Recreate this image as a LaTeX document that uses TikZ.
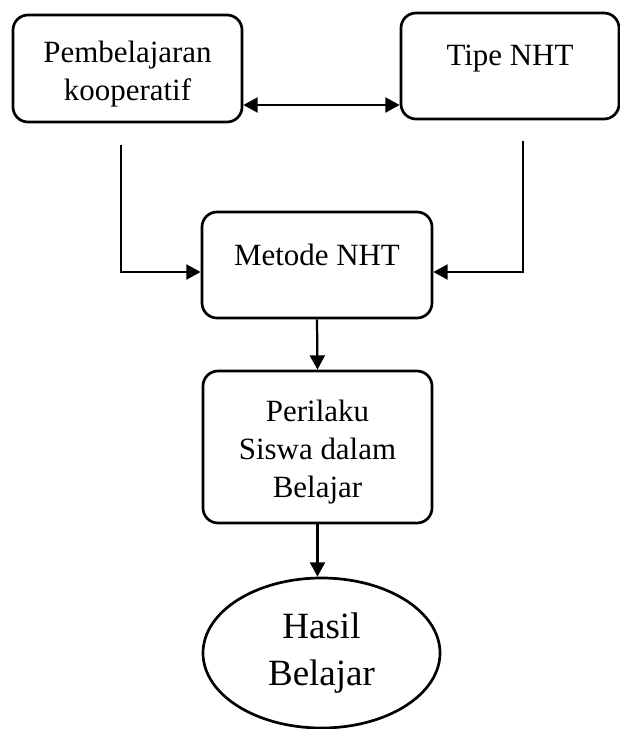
\documentclass[tikz,border=0pt]{standalone}
\usepackage{fontspec}
\setmainfont{Liberation Serif}
\usetikzlibrary{arrows.meta,shapes.geometric}
\begin{document}
\begin{tikzpicture}[x=0.03cm,y=-0.03cm,
  kotak/.style={draw,line width=2.3pt,rounded corners=0.45cm,inner sep=0pt,align=center,
    font=\fontsize{26.4}{32.4}\selectfont},
  link/.style={line width=1.9pt,-{Triangle[length=0.43cm,width=0.45cm]}}]
\useasboundingbox (0,0) rectangle (620,729);
\node[kotak,minimum width=6.87cm,text height=2.55cm,text depth=0.66cm] (koop) at (127.5,68.5) {Pembelajaran\\kooperatif};
\node[kotak,minimum width=6.54cm,text height=1.56cm,text depth=1.62cm] (tipe) at (510,66) {Tipe NHT};
\node[kotak,minimum width=6.9cm,text height=1.59cm,text depth=1.59cm] (metode) at (317,265) {Metode NHT};
\node[kotak,minimum width=6.87cm,text height=3.78cm,text depth=0.78cm] (perilaku) at (317.5,447) {Perilaku\\Siswa dalam\\Belajar};
\node[draw,ellipse,line width=2.3pt,inner sep=0pt,align=center,minimum width=7.11cm,minimum height=4.5cm,
  text height=2.16cm,text depth=0.24cm,font=\fontsize{31.6}{40}\selectfont] (hasil) at (321.5,653) {Hasil\\Belajar};
\coordinate (koopend) at (121,145);
\coordinate (tipeend) at (523,141);
\draw[link,{Triangle[length=0.43cm,width=0.45cm]}-{Triangle[length=0.43cm,width=0.45cm]}] (koop.east |- 0,105) -- (tipe.west |- 0,105);
\draw[link] (koopend) |- (metode.west |- 0,272);
\draw[link] (tipeend) |- (metode.east |- 0,272);
\draw[link] (metode.south) -- (perilaku.north);
\draw[link] (perilaku.south) -- (perilaku.south |- hasil.north);
\end{tikzpicture}
\end{document}
